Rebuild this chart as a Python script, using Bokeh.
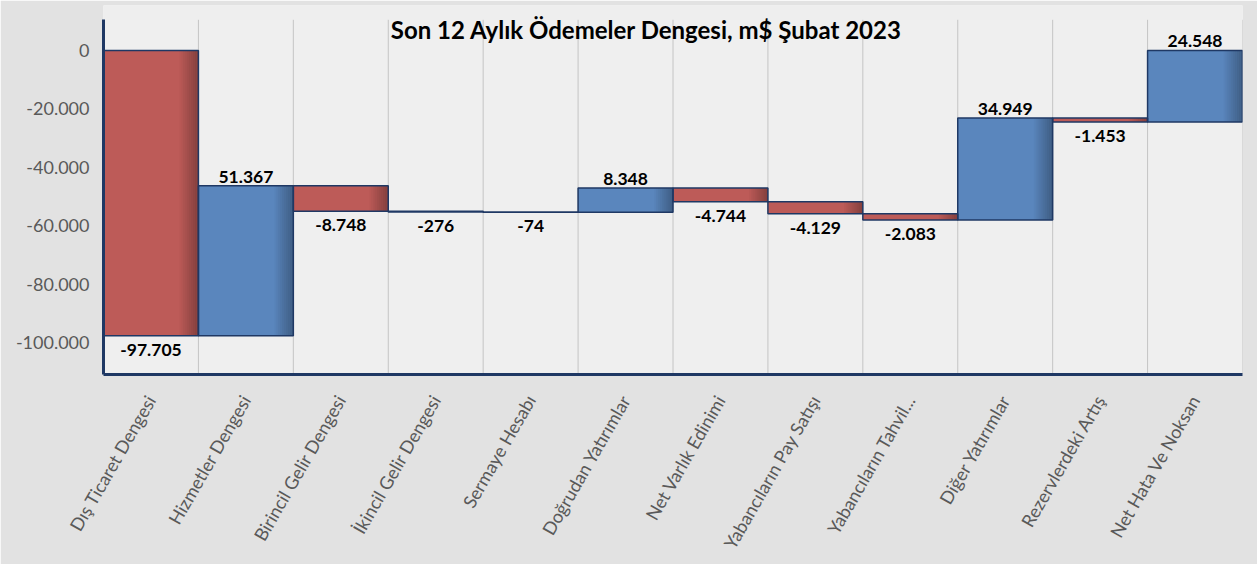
import math
from bokeh.plotting import figure
from bokeh.models import FixedTicker, Range1d, ColumnDataSource, Label
from bokeh.transform import dodge
from bokeh.core.properties import value
from bokeh.embed import file_html
from bokeh.resources import INLINE

categories = ["Dış Ticaret Dengesi", "Hizmetler Dengesi", "Birincil Gelir Dengesi",
              "İkincil Gelir Dengesi", "Sermaye Hesabı", "Doğrudan Yatırımlar",
              "Net Varlık Edinimi", "Yabancıların Pay Satışı", "Yabancıların Tahvil...",
              "Diğer Yatırımlar", "Rezervlerdeki Artış", "Net Hata Ve Noksan"]
values = [-97705, 51367, -8748, -276, -74, 8348, -4744, -4129, -2083, 34949, -1453, 24548]
y_ticks = [0, -20000, -40000, -60000, -80000, -100000]
title_text = "Son 12 Aylık Ödemeler Dengesi, m$ Şubat 2023"

RED = "#bd5b58"
BLUE = "#5a86bd"
NAVY = "#1f3864"
FONT = "Lato"
Y_MIN, Y_MAX = -111000, 10500

xs, bottoms, tops, colors, labels = [], [], [], [], []
run = 0
for i, v in enumerate(values):
    start = run
    run = run + v
    xs.append(i + 0.5)
    bottoms.append(min(start, run))
    tops.append(max(start, run))
    colors.append(BLUE if v > 0 else RED)
    labels.append(f"{v:,}".replace(",", "."))

src = ColumnDataSource(dict(x=xs, bottom=bottoms, top=tops, color=colors, label=labels))
pos = ColumnDataSource(dict(x=[x for x, v in zip(xs, values) if v > 0],
                            y=[t for t, v in zip(tops, values) if v > 0],
                            label=[l for l, v in zip(labels, values) if v > 0]))
neg = ColumnDataSource(dict(x=[x for x, v in zip(xs, values) if v < 0],
                            y=[b for b, v in zip(bottoms, values) if v < 0],
                            label=[l for l, v in zip(labels, values) if v < 0]))
grid_x = list(range(len(categories) + 1))

p = figure(width=1257, height=564, output_backend="svg", toolbar_location=None,
           x_range=Range1d(0, len(categories)), y_range=Range1d(Y_MIN, 15400),
           min_border_left=103, min_border_right=15, min_border_top=5, min_border_bottom=190)
p.border_fill_color = "#e2e2e2"
p.background_fill_color = "#eeeeee"
p.outline_line_color = None

p.quad(left=[0], right=[len(categories)], bottom=[Y_MIN], top=[Y_MAX],
       fill_color="#efefef", line_color=None)
p.segment(x0=grid_x, y0=[Y_MIN] * len(grid_x), x1=grid_x, y1=[Y_MAX] * len(grid_x),
          line_color="#c4c4c4", line_width=1)

p.vbar(x="x", width=1.0, bottom="bottom", top="top", source=src,
       fill_color="color", line_color=None)
n = 10
for k in range(n):
    off = 0.30 + (k + 0.5) * 0.02
    p.vbar(x=dodge("x", off, range=p.x_range), width=0.02, bottom="bottom", top="top",
           source=src, fill_color="black", fill_alpha=0.025 + 0.03 * k, line_color=None)
p.vbar(x="x", width=1.0, bottom="bottom", top="top", source=src,
       fill_color=None, line_color=NAVY, line_width=1.5)

p.text(x="x", y="y", text="label", source=pos, text_align="center",
       text_baseline="bottom", y_offset=-3, text_font=value(FONT),
       text_font_style="bold", text_font_size="17.5px", text_color="black")
p.text(x="x", y="y", text="label", source=neg, text_align="center",
       text_baseline="top", y_offset=8, text_font=value(FONT),
       text_font_style="bold", text_font_size="17.5px", text_color="black")

p.add_layout(Label(x=543, y=345, x_units="screen", y_units="screen", text=title_text,
                   text_align="center", text_baseline="middle", text_font=FONT,
                   text_font_style="bold", text_font_size="24px", text_color="black"))

p.xaxis.ticker = FixedTicker(ticks=xs)
p.xaxis.major_label_overrides = {x: c for x, c in zip(xs, categories)}
p.xaxis.major_label_orientation = math.pi / 3
p.xaxis.major_label_text_font = FONT
p.xaxis.major_label_text_font_size = "18px"
p.xaxis.major_label_text_color = "#595959"
p.xaxis.major_label_standoff = 16
p.xaxis.axis_line_color = NAVY
p.xaxis.axis_line_width = 3
p.xaxis.major_tick_line_color = None
p.xaxis.minor_tick_line_color = None

p.yaxis.ticker = FixedTicker(ticks=y_ticks)
p.yaxis.bounds = (Y_MIN, Y_MAX)
p.yaxis.major_label_overrides = {t: f"{t:,}".replace(",", ".") for t in y_ticks}
p.yaxis.major_label_text_font = FONT
p.yaxis.major_label_text_font_size = "18px"
p.yaxis.major_label_text_color = "#595959"
p.yaxis.major_label_standoff = 14
p.yaxis.major_tick_out = 0
p.yaxis.major_tick_in = 0
p.yaxis.axis_line_color = NAVY
p.yaxis.axis_line_width = 3
p.yaxis.major_tick_line_color = None
p.yaxis.minor_tick_line_color = None

p.grid.grid_line_color = None

open("out.html", "w").write(file_html(p, INLINE))
